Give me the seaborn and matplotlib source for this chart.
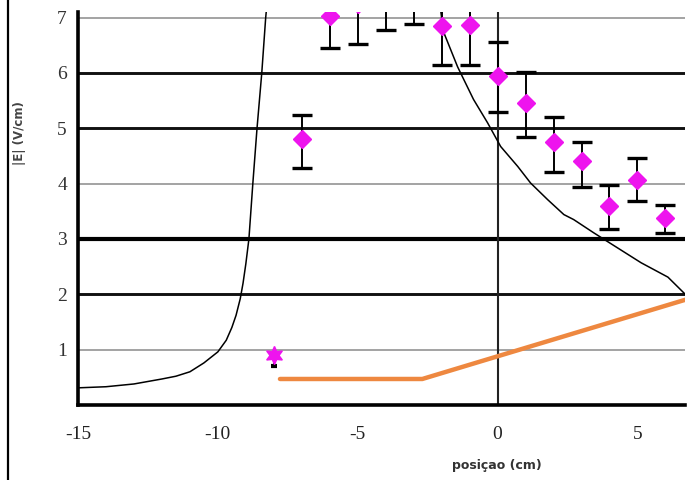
import numpy as np
import pandas as pd
import seaborn as sns
import matplotlib.pyplot as plt
from matplotlib.lines import Line2D

sns.set_theme(style="white")
plt.rcParams['font.family'] = ['Liberation Serif', 'DejaVu Serif']

# measured |E| with error bars
pos_x = [-8, -7, -6, -5, -4, -3, -2, -1, 0, 1, 2, 3, 4, 5, 6]
E_meas = [0.90, 4.80, 7.02, 7.25, 7.30, 7.35, 6.85, 6.87, 5.95, 5.45, 4.75, 4.40, 3.60, 4.07, 3.38]
err_lo = [0.20, 0.52, 0.57, 0.72, 0.52, 0.46, 0.70, 0.72, 0.65, 0.60, 0.54, 0.46, 0.42, 0.38, 0.27]
err_hi = [0.00, 0.44, 0.57, 0.72, 0.52, 0.46, 0.70, 0.72, 0.60, 0.57, 0.46, 0.36, 0.38, 0.40, 0.24]

# theoretical curve (black)
curve_x = [-15, -14, -13, -12, -11.5, -11, -10.5, -10, -9.7, -9.5, -9.35, -9.2, -9.1, -9.0,
           -8.89, -8.75, -8.6, -8.43, -8.29, -8.1,
           -2.1, -1.94, -1.43, -0.86, -0.36, 0.11, 0.72, 1.18, 1.79, 2.37, 2.72, 3.44, 3.94,
           5.13, 6.09, 6.67, 6.9]
curve_y = [0.31, 0.33, 0.38, 0.47, 0.52, 0.60, 0.76, 0.96, 1.17, 1.40, 1.62, 1.92, 2.2, 2.55,
           3.0, 4.0, 5.0, 6.0, 7.0, 8.0,
           7.4, 6.75, 6.11, 5.52, 5.10, 4.67, 4.31, 4.01, 3.71, 3.44, 3.35, 3.11, 2.95,
           2.57, 2.31, 2.02, 1.9]

# orange line
orange_x = [-7.78, -2.69, 0, 6.9]
orange_y = [0.47, 0.47, 0.88, 1.93]

thin_grid = [1, 4, 7]
bold_grid = [2, 5, 6]
heavy_grid = [3]

meas = pd.DataFrame({'x': pos_x, 'E': E_meas, 'lo': err_lo, 'hi': err_hi})
curve = pd.DataFrame({'x': curve_x, 'E': curve_y})
orange = pd.DataFrame({'x': orange_x, 'E': orange_y})

fig = plt.figure(figsize=(6.93, 4.8), dpi=100)
ax = fig.add_axes([78 / 693, 1 - 405 / 480, (685 - 78) / 693, (405 - 12) / 480])

for y in thin_grid:
    ax.axhline(y, color='#8a8a8a', lw=1.1, zorder=1)
for y in bold_grid:
    ax.axhline(y, color='#111111', lw=2.1, zorder=1)
for y in heavy_grid:
    ax.axhline(y, color='#000000', lw=3.0, zorder=1)
ax.axvline(0, color='#222222', lw=1.5, zorder=1)

sns.lineplot(data=curve, x='x', y='E', estimator=None, sort=False, color='black',
             lw=1.1, ax=ax, zorder=3)
sns.lineplot(data=orange, x='x', y='E', estimator=None, sort=False, color='#EE8840',
             lw=3.2, ax=ax, zorder=3)

dia = meas.iloc[1:]
star = meas.iloc[:1]
ax.errorbar(dia['x'], dia['E'], yerr=[dia['lo'], dia['hi']], fmt='none',
            ecolor='black', elinewidth=1.4, capsize=7, capthick=2.4, zorder=4)
ax.errorbar(star['x'], star['E'], yerr=[star['lo'], star['hi']], fmt='none',
            ecolor='black', elinewidth=1.4, capsize=2, capthick=3, zorder=4)
ax.plot(dia['x'], dia['E'], ls='none', marker='D', ms=9, color='#EE14EE',
        mec='#EE14EE', zorder=5)
ax.plot(star['x'], star['E'], ls='none', marker=(6, 1, 0), ms=13, color='#EE14EE',
        mec='#EE14EE', zorder=5)

ax.set_xlim(-15, 6.7)
ax.set_ylim(0, 7.1)

for s in ['top', 'right']:
    ax.spines[s].set_visible(False)
ax.spines['left'].set_linewidth(2.6)
ax.spines['left'].set_color('black')
ax.spines['bottom'].set_linewidth(2.6)
ax.spines['bottom'].set_color('black')

ax.set_xticks([-15, -10, -5, 0, 5])
ax.set_xticklabels(['-15', '-10', '-5', '0', '5'])
ax.set_yticks([0, 1, 2, 3, 4, 5, 6, 7])
ax.set_yticklabels(['', '1', '2', '3', '4', '5', '6', '7'])
ax.tick_params(axis='x', direction='inout', length=18, width=2.2, color='black',
               labelsize=14, pad=6, labelcolor='#222222')
ax.tick_params(axis='y', direction='out', length=5, width=1.0, color='#777777',
               labelsize=14, pad=3, labelcolor='#333333')
ax.set_xlabel('')
ax.set_ylabel('')

fig.text(497 / 693, 1 - 466 / 480, 'posiçao (cm)', ha='center', va='center',
         fontsize=9, fontweight='bold', family='DejaVu Sans', color='#333333')
fig.text(20 / 693, 1 - 133 / 480, '|E| (V/cm)', ha='center', va='center', rotation=90,
         fontsize=8.5, fontweight='bold', family='DejaVu Sans', color='#444444')
fig.add_artist(Line2D([8 / 693, 8 / 693], [0, 1], color='black', lw=1.6))

fig.savefig('out.png', dpi=100, facecolor='white')
